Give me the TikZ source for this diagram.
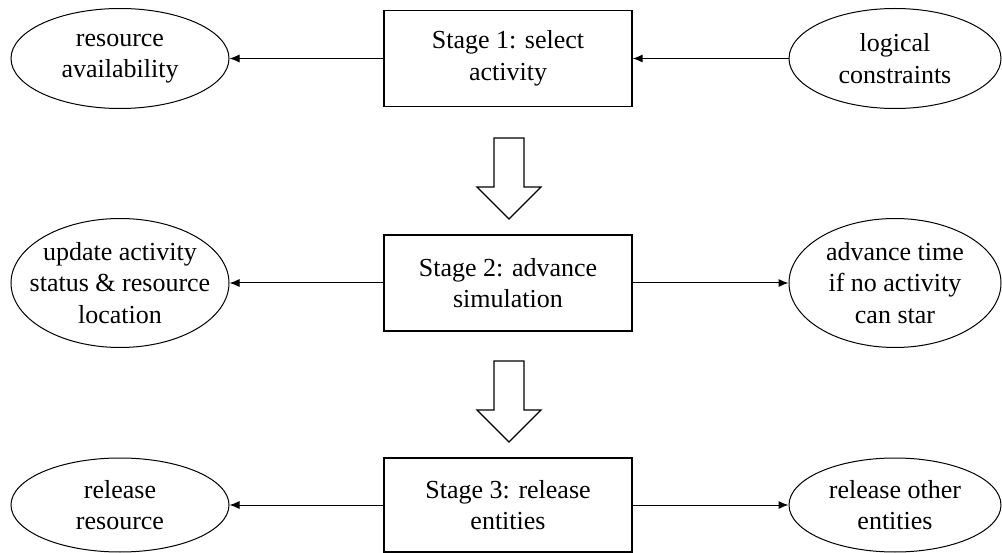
\documentclass[tikz,border=0pt]{standalone}
\usepackage{fontspec}
\setmainfont{Liberation Serif}
\usetikzlibrary{shapes.geometric,arrows.meta}

\tikzset{
  stagebox/.style={draw, line width=1.3pt, minimum width=248pt, minimum height=96pt, align=center, inner sep=0pt},
  oval/.style={draw, ellipse, line width=1pt, inner sep=0pt},
  ovaltext/.style={align=center},
  link/.style={line width=1pt, -{Latex[length=10pt,width=8pt]}},
  hollow/.style={line width=1.3pt, line join=miter}
}

\begin{document}
\begin{tikzpicture}[x=1pt,y=-1pt,font=\fontsize{26}{31.5}\selectfont]
\useasboundingbox (0,0) rectangle (1002,553);

% stage 1
\node[stagebox] (s1) at (508,58.5) {Stage 1: select\\activity};
\node[oval, minimum width=218pt, minimum height=100pt, label={[ovaltext]center:{resource\\availability}}] (avail) at (120,58.5) {};
\node[oval, minimum width=212pt, minimum height=100pt, label={[ovaltext]center:{logical\\constraints}}] (cons) at (895,58.5) {};

\draw[link] (s1.west) -- (avail.east);
\draw[link] (cons.west) -- (s1.east);

\coordinate (d1) at (509,138);
\draw[hollow] (d1) ++(-15,0) -- ++(0,49) -- ++(-17,0) -- ++(32,32) -- ++(32,-32) -- ++(-17,0) -- ++(0,-49) -- cycle;

% stage 2
\node[stagebox] (s2) at (508,283) {Stage 2: advance\\simulation};
\node[oval, minimum width=218pt, minimum height=129pt, label={[ovaltext]center:{update activity\\status \& resource\\location}}] (upd) at (120,283) {};
\node[oval, minimum width=212pt, minimum height=129pt, label={[ovaltext]center:{advance time\\if no activity\\can star}}] (adv) at (895,283) {};

\draw[link] (s2.west) -- (upd.east);
\draw[link] (s2.east) -- (adv.west);

\coordinate (d2) at (509,361);
\draw[hollow] (d2) ++(-15,0) -- ++(0,49) -- ++(-17,0) -- ++(32,32) -- ++(32,-32) -- ++(-17,0) -- ++(0,-49) -- cycle;

% stage 3
\node[stagebox, minimum height=94pt] (s3) at (508,505) {Stage 3: release\\entities};
\node[oval, minimum width=218pt, minimum height=94pt, label={[ovaltext]center:{release\\resource}}] (relres) at (120,505) {};
\node[oval, minimum width=212pt, minimum height=94pt, label={[ovaltext]center:{release other\\entities}}] (relent) at (895,505) {};

\draw[link] (s3.west) -- (relres.east);
\draw[link] (s3.east) -- (relent.west);

\end{tikzpicture}
\end{document}
